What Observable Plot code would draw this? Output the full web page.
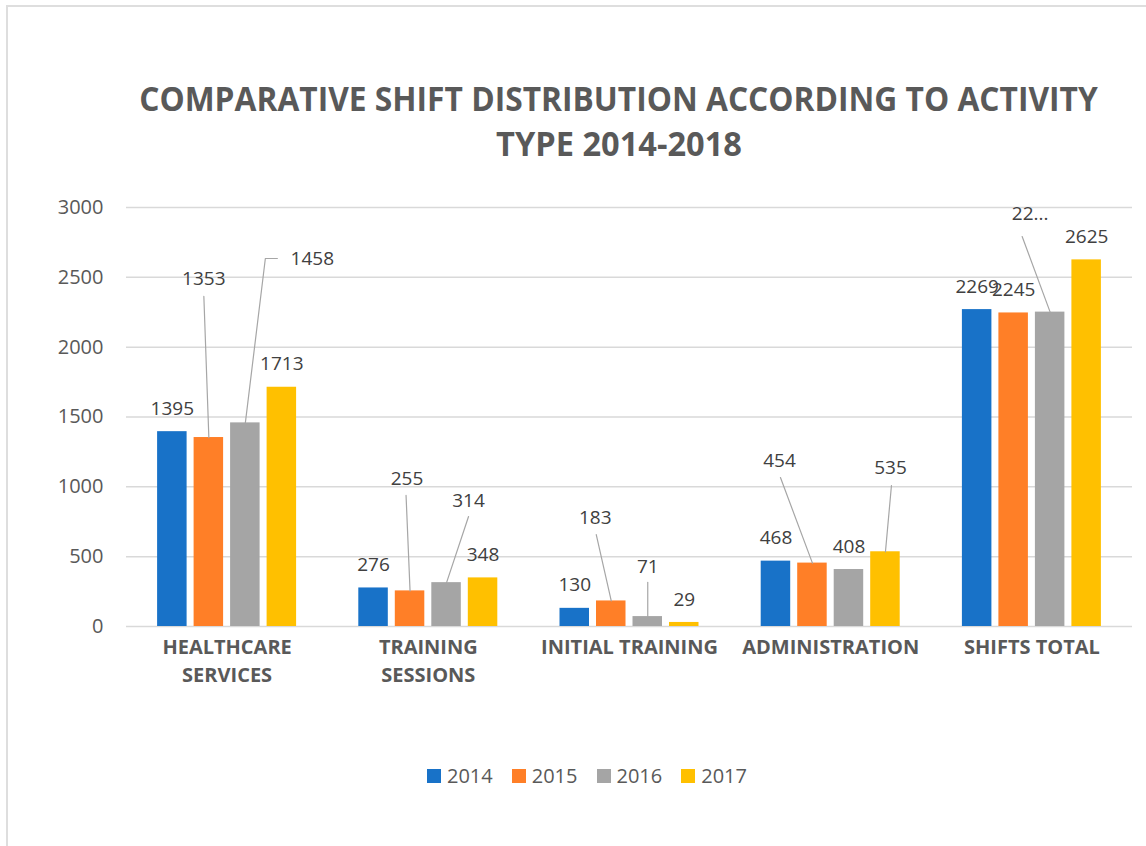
<!DOCTYPE html>
<html>
<head>
<meta charset="utf-8">
<script src="https://cdn.jsdelivr.net/npm/d3@7"></script>
<script src="https://cdn.jsdelivr.net/npm/@observablehq/plot@0.6"></script>
<style>
  html, body { margin: 0; padding: 0; background: #fff; }
  body { width: 1146px; height: 846px; overflow: hidden; position: relative; font-family: "Open Sans", sans-serif; }
  #frame { position: absolute; left: 6px; top: 5px; width: 1300px; height: 1000px; border-top: 2px solid #dedede; border-left: 2px solid #dedede; box-sizing: border-box; }
  #title { position: absolute; left: 0; top: 0; }
  #chart { position: absolute; left: 0; top: 180px; }
  #legend { position: absolute; left: 427px; top: 766px; height: 20px; display: flex; align-items: center; }
  .item { display: flex; align-items: center; margin-right: 19px; }
  .sw { width: 14px; height: 14px; margin-right: 6px; }
  .lt { font-size: 20px; line-height: 20px; color: #595959; }
</style>
</head>
<body>
<div id="frame"></div>
<svg id="title" width="1146" height="180" xmlns="http://www.w3.org/2000/svg">
  <text id="t1" data-cx="618.5" data-cy="111" data-w="959" text-anchor="middle"
        font-family="Open Sans, sans-serif" font-weight="bold" font-size="33.5" fill="#595959">COMPARATIVE SHIFT DISTRIBUTION ACCORDING TO ACTIVITY</text>
  <text id="t2" data-cx="619" data-cy="156" data-w="246" text-anchor="middle"
        font-family="Open Sans, sans-serif" font-weight="bold" font-size="33.5" fill="#595959">TYPE 2014-2018</text>
</svg>
<div id="chart"></div>
<div id="legend"></div>
<script>
// ---- data ----
const categories = ["HEALTHCARE SERVICES", "TRAINING SESSIONS", "INITIAL TRAINING", "ADMINISTRATION", "SHIFTS TOTAL"];
const categoryLabels = ["HEALTHCARE\nSERVICES", "TRAINING\nSESSIONS", "INITIAL TRAINING", "ADMINISTRATION", "SHIFTS TOTAL"];
const years = ["2014", "2015", "2016", "2017"];
const values2014 = [1395, 276, 130, 468, 2269];
const values2015 = [1353, 255, 183, 454, 2245];
const values2016 = [1458, 314, 71, 408, 2251];
const values2017 = [1713, 348, 29, 535, 2625];
const yTicks = [0, 500, 1000, 1500, 2000, 2500, 3000];
const colors = ["#1872c8", "#ff7f27", "#a5a5a5", "#ffc000"];

// manually placed data labels (Excel-style, with leader lines)
// cat/year index, dx (px from bar centre), ly (label y in data units), from (leader start, px from label centre)
const movedLabels = [
  {cat: 0, year: 1, dx: -5,  ly: 2492, from: [0, 18]},
  {cat: 0, year: 2, dx: 67,  ly: 2635, from: [-35, 0], elbow: [-47, 0]},
  {cat: 1, year: 1, dx: -3,  ly: 1060, from: [-1, 17]},
  {cat: 1, year: 2, dx: 22,  ly: 902,  from: [0, 16]},
  {cat: 2, year: 1, dx: -16, ly: 780,  from: [1, 17]},
  {cat: 2, year: 2, dx: 0,   ly: 430,  from: [0, 16]},
  {cat: 3, year: 1, dx: -33, ly: 1188, from: [1, 17]},
  {cat: 3, year: 3, dx: 5,   ly: 1138, from: [1, 18]},
  {cat: 4, year: 2, dx: -20, ly: 2957, from: [-8, 23], text: "22..."}
];

// ---- title: fit each line to its measured width ----
["t1", "t2"].forEach(id => {
  const t = document.getElementById(id);
  const len = t.getComputedTextLength();
  const s = (+t.dataset.w) / len;
  t.setAttribute("transform", `translate(${t.dataset.cx},${t.dataset.cy}) scale(${s},1)`);
});

// ---- layout ----
const W = 1146, H = 520, ML = 126, MR = 14, MT = 27, MB = 74;
const pxPerX = (W - ML - MR) / categories.length;
const pxPerY = (H - MT - MB) / 3000;
const step = 36.5 / pxPerX;      // distance between bars in a group
const half = 14.75 / pxPerX;     // half bar width

const series = [values2014, values2015, values2016, values2017];
const rows = [];
categories.forEach((c, i) => {
  years.forEach((y, j) => {
    rows.push({cat: i, category: c, yi: j, year: y, value: series[j][i], cx: i + (j - 1.5) * step});
  });
});
const findRow = (c, y) => rows.find(r => r.cat === c && r.yi === y);
const movedKeys = new Set(movedLabels.map(m => m.cat + "-" + m.year));
const defaultLabels = rows.filter(r => !movedKeys.has(r.cat + "-" + r.yi));
const placed = movedLabels.map(m => {
  const r = findRow(m.cat, m.year);
  return {x: r.cx + m.dx / pxPerX, y: m.ly, text: m.text || String(r.value), r, m};
});
const leaders = [];
placed.forEach((p, k) => {
  const pts = [p.m.from];
  if (p.m.elbow) pts.push(p.m.elbow);
  pts.forEach(([ox, oy]) => leaders.push({id: k, x: p.x + ox / pxPerX, y: p.y - oy / pxPerY}));
  leaders.push({id: k, x: p.r.cx, y: p.r.value});
});

const chart = Plot.plot({
  width: W, height: H,
  marginLeft: ML, marginRight: MR, marginTop: MT, marginBottom: MB,
  style: {fontFamily: "Open Sans, sans-serif", background: "transparent"},
  x: {domain: [-0.5, categories.length - 0.5]},
  y: {domain: [0, 3000]},
  color: {domain: years, range: colors},
  marks: [
    Plot.gridY(yTicks, {stroke: "#d9d9d9", strokeOpacity: 1, strokeWidth: 1.5}),
    Plot.axisY({ticks: yTicks, tickFormat: d => String(d), tickSize: 0, tickPadding: 23, fontSize: 20, fill: "#595959", label: null}),
    Plot.axisX({ticks: d3.range(categories.length), tickFormat: i => categoryLabels[i], tickSize: 0, tickPadding: 8,
      fontSize: 20, fontWeight: "bold", fill: "#595959", lineHeight: 1.4, label: null}),
    Plot.rectY(rows, {x1: d => d.cx - half, x2: d => d.cx + half, y: "value", fill: "year"}),
    Plot.line(leaders, {x: "x", y: "y", z: "id", stroke: "#a6a6a6", strokeWidth: 1.2}),
    Plot.text(defaultLabels, {x: "cx", y: "value", text: d => String(d.value), dy: -23, fontSize: 19, fill: "#404040"}),
    Plot.text(placed, {x: "x", y: "y", text: "text", fontSize: 19, fill: "#404040"})
  ]
});
document.getElementById("chart").appendChild(chart);

const legend = document.getElementById("legend");
years.forEach((y, j) => {
  const item = document.createElement("div");
  item.className = "item";
  item.innerHTML = `<span class="sw" style="background:${colors[j]}"></span><span class="lt">${y}</span>`;
  legend.appendChild(item);
});
</script>
</body>
</html>
